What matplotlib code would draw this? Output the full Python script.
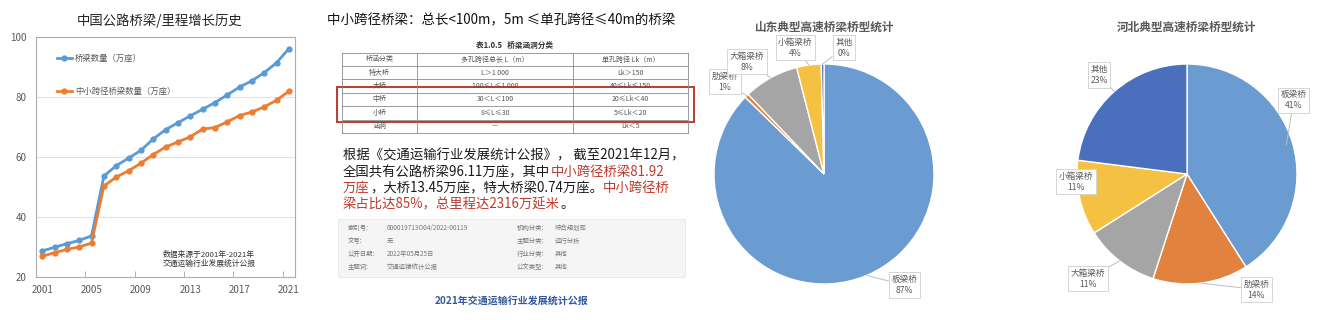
# Composite slide: bridge growth line chart, small/medium span notes, two pie charts
import matplotlib.pyplot as plt
from matplotlib.patches import Rectangle
import numpy as np

plt.rcParams['font.family'] = ['Noto Sans CJK SC', 'DejaVu Sans']

W, H = 1328, 320

# ---- line chart data (万座)
years = list(range(2001, 2022))
bridges = [28.7, 29.9, 31.1, 32.2, 33.7, 53.6, 57.1, 59.6, 62.2, 66.0, 69.1,
           71.4, 73.7, 75.9, 78.1, 80.7, 83.3, 85.4, 88.1, 91.4, 96.1]
small_mid = [26.9, 28.1, 29.2, 30.0, 31.3, 50.3, 53.3, 55.4, 57.9, 60.8, 63.3,
             65.0, 66.7, 69.3, 69.8, 71.7, 73.8, 75.0, 76.7, 78.9, 81.9]
year_labels = [2001, 2005, 2009, 2013, 2017, 2021]
y_ticks = [20, 40, 60, 80, 100]

# ---- pie data (%)
bridge_types = ['板梁桥', '肋梁桥', '大箱梁桥', '小箱梁桥', '其他']
sd_share = [87.3, 0.6, 8.1, 3.6, 0.4]
hb_share = [41, 14, 11, 11, 23]
pie_colors = ['#6A9BD1', '#E2823F', '#A5A5A5', '#F5C142', '#4A70BD']

# ---- middle panel text
table_caption = '表1.0.5   桥梁涵洞分类'
table_header = ['桥涵分类', '多孔跨径总长 L（m）', '单孔跨径 Lk（m）']
table_rows = [['特大桥', 'L＞1 000', 'Lk＞150'],
              ['大桥', '100≤L≤1 000', '40≤Lk≤150'],
              ['中桥', '30＜L＜100', '20≤Lk＜40'],
              ['小桥', '8≤L≤30', '5≤Lk＜20'],
              ['涵洞', '—', 'Lk＜5']]
info_rows = [['索引号:', '000019713O04/2022-00119', '机构分类:', '综合规划司'],
             ['文号:', '无', '主题分类:', '运行分析'],
             ['公开日期:', '2022年05月25日', '行业分类:', '其他'],
             ['主题词:', '交通运输统计公报', '公文类型:', '其他']]

fig = plt.figure(figsize=(W / 100, H / 100), dpi=100)


def px_axes(x0, y0, x1, y1):
    return fig.add_axes([x0 / W, 1 - y1 / H, (x1 - x0) / W, (y1 - y0) / H])


# background axis in pixel coordinates for the middle panel
bg = fig.add_axes([0, 0, 1, 1])
bg.set_xlim(0, W)
bg.set_ylim(H, 0)
bg.axis('off')

# ================= line chart =================
ax = px_axes(36, 37, 295, 277)
ax.plot(years, bridges, color='#5B9BD5', lw=2, marker='o', ms=3.5,
        label='桥梁数量（万座）')
ax.plot(years, small_mid, color='#ED7D31', lw=2, marker='o', ms=3.5,
        label='中小跨径桥梁数量（万座）')
ax.set_xlim(2000.5, 2021.5)
ax.set_ylim(20, 100)
ax.set_yticks(y_ticks)
ax.set_xticks(year_labels)
ax.set_xticks([2004.5, 2008.5, 2012.5, 2016.5, 2020.5], minor=True)
ax.tick_params(axis='both', which='major', length=0, labelsize=7,
               labelcolor='#595959')
ax.tick_params(axis='y', pad=7)
ax.tick_params(axis='x', pad=6)
ax.tick_params(axis='x', which='minor', direction='in', length=4,
               color='#A6A6A6')
for y in [40, 60, 80]:
    ax.axhline(y, color='#E3E3E3', lw=0.8, zorder=0)
for s in ax.spines.values():
    s.set_color('#ADADAD')
ax.legend(loc='upper left', bbox_to_anchor=(0.081, 0.93), frameon=False,
          fontsize=6, labelcolor='#595959', labelspacing=2.9,
          handlelength=1.8, handletextpad=0.35, borderpad=0, borderaxespad=0)
ax.text(0.49, 0.073, '数据来源于2001年-2021年\n交通运输行业发展统计公报',
        transform=ax.transAxes, fontsize=5.6, color='#333333',
        va='center', ha='left', linespacing=1.15)
bg.text(160, 21, '中国公路桥梁/里程增长历史', fontsize=9.6, color='#222222',
        ha='center', va='center')

# ================= middle panel =================
bg.text(327, 20, '中小跨径桥梁：总长<100m，5m ≤单孔跨径≤40m的桥梁',
        fontsize=9.7, color='#111111', ha='left', va='center')

# table
col_x = [342, 417, 573, 688]
row_y = [53, 66, 79, 92.5, 106, 119.5, 133]
bg.text(515, 45, table_caption, fontsize=5.5, color='#333333',
        ha='center', va='center', fontweight='bold')
for y in row_y:
    bg.plot([col_x[0], col_x[-1]], [y, y], color='#8A8A8A', lw=0.6)
for x in col_x:
    bg.plot([x, x], [row_y[0], row_y[-1]], color='#8A8A8A', lw=0.6)
for r, row in enumerate([table_header] + table_rows):
    yc = (row_y[r] + row_y[r + 1]) / 2
    for c, cell in enumerate(row):
        xc = (col_x[c] + col_x[c + 1]) / 2
        bg.text(xc, yc, cell, fontsize=5, color='#555555',
                ha='center', va='center')
bg.add_patch(Rectangle((337, 87), 357, 35, fill=False, ec='#C0392B', lw=1.4))

# paragraph with mixed colours
red, blk = '#C0392B', '#1A1A1A'
para = [
    [('根据《交通运输行业发展统计公报》， 截至2021年12月，', blk)],
    [('全国共有公路桥梁96.11万座，其中', blk), ('中小跨径桥梁81.92', red)],
    [('万座', red), ('，大桥13.45万座，特大桥梁0.74万座。', blk), ('中小跨径桥', red)],
    [('梁占比达85%，总里程达2316万延米', red), ('。', blk)],
]
line_y = [155, 172, 188, 204]
for y, segs in zip(line_y, para):
    t = bg.text(343, y, segs[0][0], color=segs[0][1], fontsize=9.6,
                ha='left', va='center')
    for s, c in segs[1:]:
        t = bg.annotate(s, xy=(1, 0.5), xycoords=t, color=c, fontsize=9.6,
                        ha='left', va='center')

# info box
bg.add_patch(Rectangle((338, 219), 347, 58, fc='#F5F5F5', ec='#E8E8E8', lw=0.6))
info_y = [228, 241, 254, 267]
for y, row in zip(info_y, info_rows):
    for x, txt in zip([348, 387, 517, 555], row):
        bg.text(x, y, txt, fontsize=4.6, color='#777777', ha='left', va='center')

bg.text(512, 301, '2021年交通运输行业发展统计公报', fontsize=7.2,
        color='#35589A', fontweight='bold', ha='center', va='center')


# ================= pies =================
def draw_pie(box, shares, title, title_x, label_pos, anchor_r):
    pax = px_axes(*box)
    pax.pie(shares, colors=pie_colors, startangle=90, counterclock=False,
            radius=1, wedgeprops=dict(edgecolor='white', linewidth=1))
    pax.set_xlim(-1, 1)
    pax.set_ylim(-1, 1)
    pax.set_aspect('equal')
    cum = np.cumsum([0] + shares[:-1])
    total = sum(shares)
    for name, share, c0, pos, r in zip(bridge_types, shares, cum, label_pos, anchor_r):
        mid = np.deg2rad(90 - 360 * (c0 + share / 2) / total)
        pax.annotate(f'{name}\n{share:.0f}%', xy=(r * np.cos(mid), r * np.sin(mid)),
                     xytext=pos, fontsize=6.2, color='#595959', ha='center',
                     va='center', linespacing=1.3, annotation_clip=False,
                     bbox=dict(boxstyle='square,pad=0.3', fc='white',
                               ec='#D5D5D5', lw=0.7),
                     arrowprops=dict(arrowstyle='-', color='#BFBFBF', lw=0.7,
                                     shrinkA=0, shrinkB=0))
    bg.text(title_x, 27, title, fontsize=8.4, color='#595959',
            fontweight='bold', ha='center', va='center')


draw_pie((714, 64, 934, 284), sd_share, '山东典型高速桥梁桥型统计', 825,
         [(0.73, -1.01), (-0.90, 0.84), (-0.70, 1.02), (-0.26, 1.15), (0.18, 1.15)],
         [1.0, 1.0, 1.0, 1.0, 1.0])
draw_pie((1077, 64, 1297, 284), hb_share, '河北典型高速桥梁桥型统计', 1187,
         [(0.97, 0.67), (0.63, -1.05), (-0.90, -0.95), (-1.01, -0.07), (-0.80, 0.90)],
         [0.94, 1.0, 1.0, 0.85, 1.0])

fig.savefig('out.png', dpi=100)
